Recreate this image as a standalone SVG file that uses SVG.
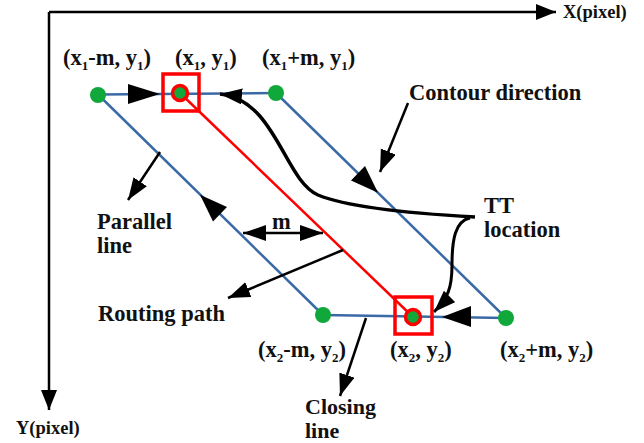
<svg xmlns="http://www.w3.org/2000/svg" width="644" height="443" viewBox="0 0 644 443">
<defs>
<style>
.t{font-family:"Liberation Serif","Times New Roman",serif;font-weight:bold;font-size:22.5px;fill:#111}
.ax{font-family:"Liberation Serif","Times New Roman",serif;font-weight:bold;font-size:18.5px;fill:#111}
.sub{font-size:13px}
.blue{stroke:#3a6aa6;stroke-width:2.5;fill:none}
.red{stroke:#ff0000;stroke-width:2.5;fill:none}
.blk{stroke:#000;stroke-width:2.5;fill:none}
.dot{fill:#10a83a}
.box{fill:none;stroke:#ff0000;stroke-width:3.5}
.ring{fill:#10a83a;stroke:#ff0000;stroke-width:3.5}
</style>
<marker id="ah" markerUnits="userSpaceOnUse" markerWidth="24" markerHeight="18" refX="22" refY="8" orient="auto">
<path d="M0,0 L22,8 L0,16 z" fill="#000"/>
</marker>
<marker id="axh" markerUnits="userSpaceOnUse" markerWidth="24" markerHeight="18" refX="20" refY="8" orient="auto">
<path d="M0,0 L20,8 L0,16 z" fill="#000"/>
</marker>
<marker id="ahs" markerUnits="userSpaceOnUse" markerWidth="26" markerHeight="18" refX="23" refY="8" orient="auto-start-reverse">
<path d="M0,0 L23,8 L0,16 z" fill="#000"/>
</marker>
</defs>

<g id="axes">
<path class="blk" d="M49,12 L556,12" marker-end="url(#axh)"/>
<path class="blk" d="M49,12 L49,410" marker-end="url(#axh)"/>
<text class="ax" x="563" y="18">X(pixel)</text>
<text class="ax" x="16" y="434">Y(pixel)</text>
</g>

<g id="shape">
<path class="blue" d="M98,94.5 L276,93"/>
<path class="blue" d="M323,315 L506,318"/>
<path class="blue" d="M98,94.5 L323,315"/>
<path class="blue" d="M276,93 L506,318"/>
<path class="red" d="M180,93 L413,317"/>
<polygon points="128,84 128,104 160,94" fill="#000"/>
<polygon points="471,306 471,327 442,317" fill="#000"/>
<polygon points="200,194.7 227,207.1 213,221.5" fill="#000"/>
<polygon points="378,192.8 365,166 351,180.4" fill="#000"/>
</g>

<g id="connectors">
<path class="blk" d="M408,103 L380,172" marker-end="url(#ah)"/>
<path class="blk" d="M160,152 L128,200" marker-end="url(#ah)"/>
<path class="blk" d="M243,233 L323,233" marker-start="url(#ahs)" marker-end="url(#ahs)"/>
<path class="blk" d="M343,250 L228,298" marker-end="url(#ah)"/>
<path class="blk" d="M366,318 L340,396" marker-end="url(#ah)"/>
<path d="M475,217 C420,214 350,208 318,195 C284,180 276,100 220,94" stroke="#000" stroke-width="3.5" fill="none" marker-end="url(#ah)"/>
<path d="M470,218 C455,221 452,240 452,265 C452,288 448,298 434,312" stroke="#000" stroke-width="3" fill="none" marker-end="url(#ah)"/>
</g>

<g id="node-p1m">
<circle class="dot" cx="98" cy="95" r="8"/>
<text class="t" x="63" y="65">(x<tspan class="sub" dy="5">1</tspan><tspan dy="-5">-m, y</tspan><tspan class="sub" dy="5">1</tspan><tspan dy="-5">)</tspan></text>
</g>
<g id="node-p1">
<rect class="box" x="163" y="74" width="36" height="37"/>
<circle class="ring" cx="180" cy="93" r="7.5"/>
<text class="t" x="175" y="65">(x<tspan class="sub" dy="5">1</tspan><tspan dy="-5">, y</tspan><tspan class="sub" dy="5">1</tspan><tspan dy="-5">)</tspan></text>
</g>
<g id="node-p1p">
<circle class="dot" cx="276" cy="93" r="8"/>
<text class="t" x="262" y="65">(x<tspan class="sub" dy="5">1</tspan><tspan dy="-5">+m, y</tspan><tspan class="sub" dy="5">1</tspan><tspan dy="-5">)</tspan></text>
</g>
<g id="node-p2m">
<circle class="dot" cx="323" cy="315" r="8"/>
<text class="t" x="258" y="357">(x<tspan class="sub" dy="5">2</tspan><tspan dy="-5">-m, y</tspan><tspan class="sub" dy="5">2</tspan><tspan dy="-5">)</tspan></text>
</g>
<g id="node-p2">
<rect class="box" x="395" y="297" width="37" height="37"/>
<circle class="ring" cx="413" cy="317" r="7.5"/>
<text class="t" x="390" y="357">(x<tspan class="sub" dy="5">2</tspan><tspan dy="-5">, y</tspan><tspan class="sub" dy="5">2</tspan><tspan dy="-5">)</tspan></text>
</g>
<g id="node-p2p">
<circle class="dot" cx="506" cy="318" r="8"/>
<text class="t" x="500" y="357">(x<tspan class="sub" dy="5">2</tspan><tspan dy="-5">+m, y</tspan><tspan class="sub" dy="5">2</tspan><tspan dy="-5">)</tspan></text>
</g>

<g id="labels">
<text class="t" x="409" y="100">Contour direction</text>
<text class="t" x="484" y="213">TT<tspan x="484" dy="24">location</tspan></text>
<text class="t" x="97" y="229">Parallel<tspan x="97" dy="24">line</tspan></text>
<text class="t" x="272" y="229">m</text>
<text class="t" x="98" y="321">Routing path</text>
<text class="t" x="305" y="413.5" style="font-size:22px">Closing<tspan x="305" dy="24.5">line</tspan></text>
</g>
</svg>
